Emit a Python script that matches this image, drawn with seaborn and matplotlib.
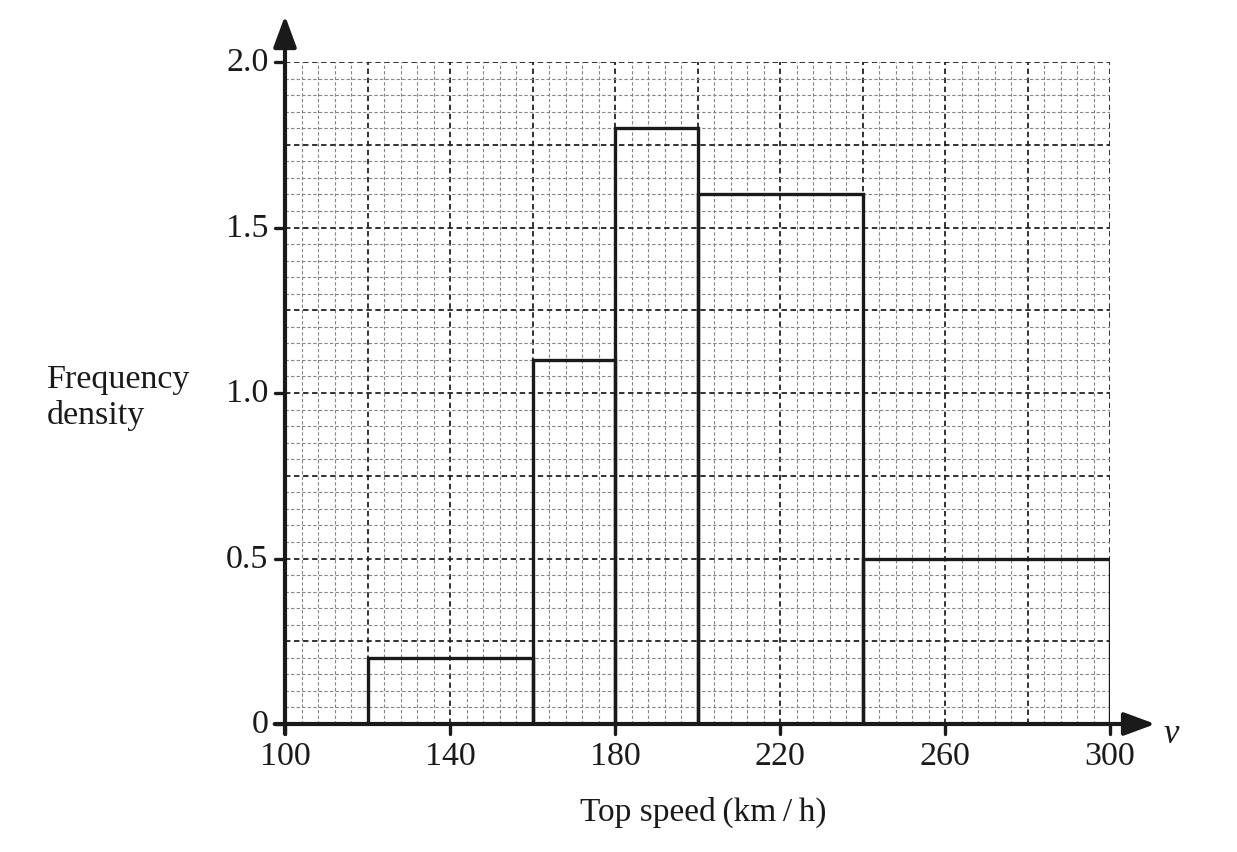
import matplotlib
matplotlib.use("Agg")
import matplotlib.pyplot as plt
import seaborn as sns
import numpy as np

# Data
bin_edges = [120, 160, 180, 200, 240, 300]
freq_density = [0.2, 1.1, 1.8, 1.6, 0.5]
x_ticks = [100, 140, 180, 220, 260, 300]
y_ticks = [0, 0.5, 1.0, 1.5, 2.0]
y_tick_labels = ["0", "0.5", "1.0", "1.5", "2.0"]

sns.set_style("white")
plt.rcParams['font.family'] = ['Liberation Serif', 'DejaVu Serif']

W, H = 1237, 853
fig = plt.figure(figsize=(W / 100, H / 100), dpi=100)
ax = fig.add_axes([285 / W, (H - 725) / H, (1110 - 285) / W, (725 - 63) / H])

mids = [(a + b) / 2 for a, b in zip(bin_edges[:-1], bin_edges[1:])]
sns.histplot(x=mids, weights=freq_density, bins=bin_edges, stat="count",
             fill=False, element="bars", color="#1a1a1a", linewidth=2.4, ax=ax, zorder=5)

ax.set_xlim(100, 300)
ax.set_ylim(0, 2.0)

# grid
ax.set_xticks(np.arange(100, 301, 20))
ax.set_yticks(np.arange(0, 2.01, 0.25))
ax.set_xticks(np.arange(100, 301, 4), minor=True)
ax.set_yticks(np.arange(0, 2.01, 0.05), minor=True)
ax.grid(which="minor", color="#858585", linestyle=(0, (3, 2)), linewidth=0.8, zorder=0)
ax.grid(which="major", color="#222222", linestyle=(0, (3, 2)), linewidth=1.3, zorder=1)
ax.set_axisbelow(True)
ax.tick_params(which="both", length=0, labelbottom=False, labelleft=False)

for s in ax.spines.values():
    s.set_visible(False)

# axis lines with arrows
ax.annotate("", xy=(311, 0), xytext=(97.5, 0), xycoords="data",
            arrowprops=dict(arrowstyle="-|>,head_length=1.9,head_width=0.7", color="#1a1a1a",
                            lw=3, shrinkA=0, shrinkB=0), annotation_clip=False, zorder=6)
ax.annotate("", xy=(100, 2.14), xytext=(100, -0.03), xycoords="data",
            arrowprops=dict(arrowstyle="-|>,head_length=1.9,head_width=0.7", color="#1a1a1a",
                            lw=3, shrinkA=0, shrinkB=0), annotation_clip=False, zorder=6)

# ticks and labels
fs = 24.5
for xv in x_ticks:
    ax.plot([xv, xv], [0, -0.03], color="#1a1a1a", lw=2.4, clip_on=False, zorder=6)
    ax.text(xv, -0.05, str(xv), ha="center", va="top", fontsize=fs, color="#1a1a1a")
for yv, lab in zip(y_ticks, y_tick_labels):
    ax.plot([100, 97.5], [yv, yv], color="#1a1a1a", lw=2.4, clip_on=False, zorder=6)
    ax.text(96.0, yv, lab, ha="right", va="center", fontsize=fs, color="#1a1a1a")

ax.text(313, -0.03, "v", ha="left", va="center", fontsize=25, style="italic", color="#1a1a1a")

fig.text(47 / W, 1 - 380 / H, "Frequency", ha="left", va="center", fontsize=fs, color="#1a1a1a")
fig.text(47 / W, 1 - 416 / H, "density", ha="left", va="center", fontsize=fs, color="#1a1a1a")
fig.text(703 / W, 1 - 812 / H, "Top speed\u2009(km\u2009/\u2009h)", ha="center", va="center",
         fontsize=24, color="#1a1a1a")

ax.set_xlabel("")
ax.set_ylabel("")

fig.savefig("out.png", dpi=100)
